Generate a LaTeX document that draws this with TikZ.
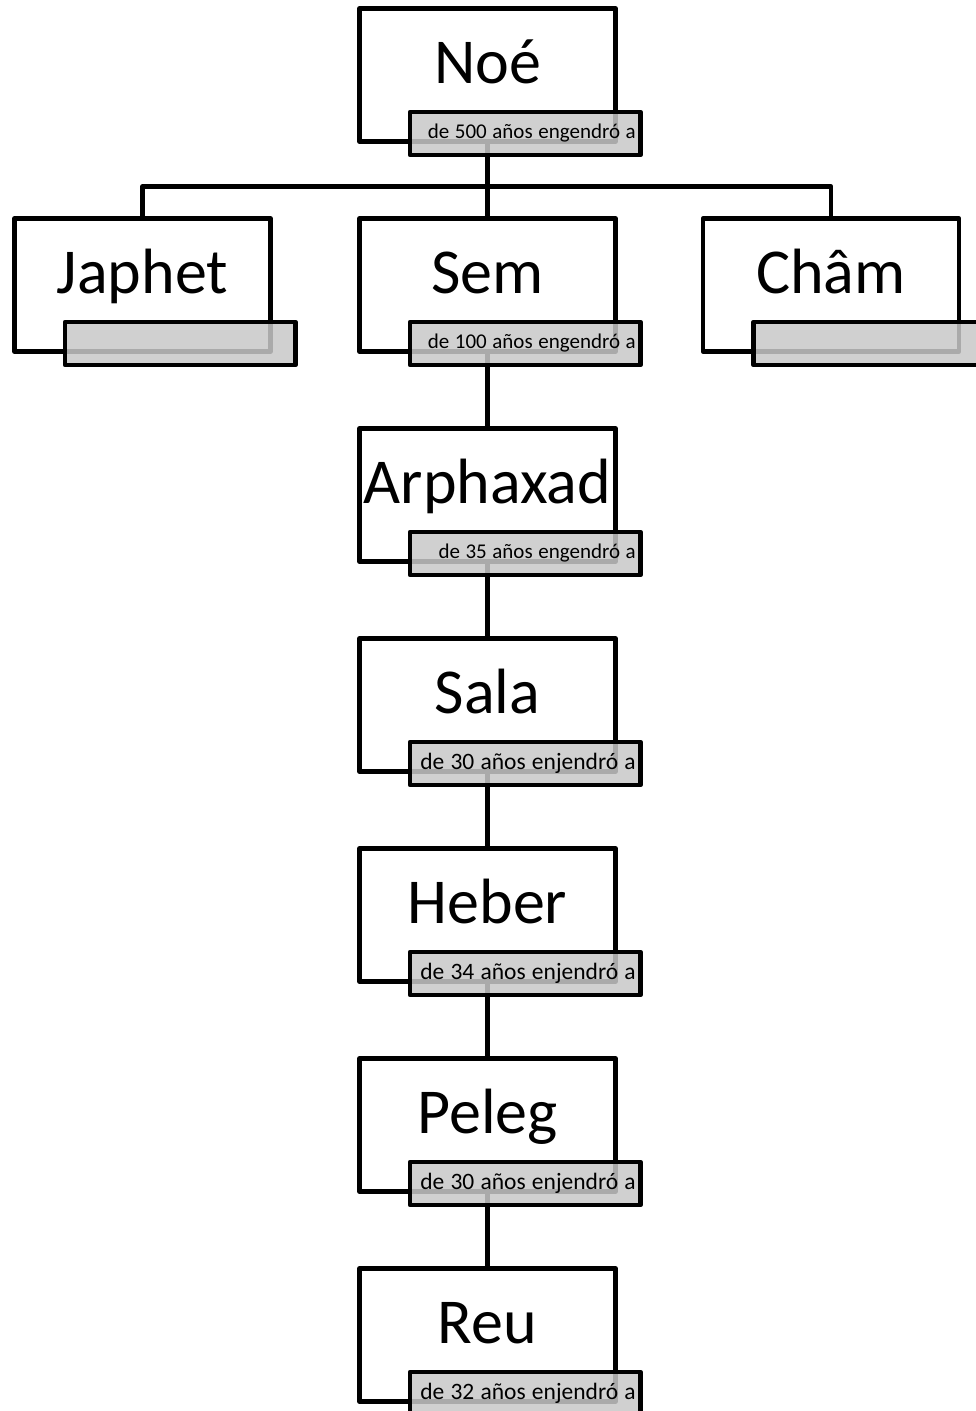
\documentclass[tikz,border=0pt]{standalone}
\usepackage{fontspec}
\setmainfont{Carlito}
\usetikzlibrary{calc}
\definecolor{lblgray}{RGB}{200,200,200}
\newcommand\lbltxtA[1]{{\fontsize{21}{24}\selectfont\makebox[221pt][r]{\spaceskip=0.265em\relax #1}}}
\newcommand\lbltxtB[1]{{\fontsize{23.5}{26}\selectfont\makebox[221pt][r]{\spaceskip=0.265em\relax #1}}}
\tikzset{
  person/.style={draw=black, line width=4.5pt, fill=white, minimum width=256pt, minimum height=133pt, inner sep=0pt, outer sep=0pt, line join=round},
  pname/.style={anchor=base, inner sep=0pt, font=\fontsize{64}{72}\selectfont},
  lbl/.style={draw=black, line width=4.5pt, fill=lblgray, fill opacity=0.85, text opacity=1, draw opacity=1, minimum width=230.5pt, minimum height=43pt, inner xsep=4.75pt, inner ysep=0pt, line join=round},
  conn/.style={draw=black, line width=4.5pt, line join=round}
}
\begin{document}
\begin{tikzpicture}[x=1pt, y=-1pt]
\useasboundingbox (0,0) rectangle (976,1411);
% positions
\coordinate (pnoe) at (487.5,75);
\coordinate (pjap) at (142.5,285);
\coordinate (psem) at (487.5,285);
\coordinate (pcha) at (831,285);
\coordinate (parp) at (487.5,495);
\coordinate (psal) at (487.5,705);
\coordinate (pheb) at (487.5,915);
\coordinate (ppel) at (487.5,1125);
\coordinate (preu) at (487.5,1335);
\coordinate (bus) at (487.5,186.5);
% person boxes
\path (pnoe) node[person] (noe) {};
\path (pjap) node[person] (jap) {};
\path (psem) node[person] (sem) {};
\path (pcha) node[person] (cha) {};
\path (parp) node[person] (arp) {};
\path (psal) node[person] (sal) {};
\path (pheb) node[person] (heb) {};
\path (ppel) node[person] (pel) {};
\path (preu) node[person] (reu) {};
% connectors
\draw[conn] (noe.south) -- (sem.north);
\draw[conn] (bus) -| (jap.north);
\draw[conn] (bus) -| (cha.north);
\draw[conn] (sem.south) -- (arp.north);
\draw[conn] (arp.south) -- (sal.north);
\draw[conn] (sal.south) -- (heb.north);
\draw[conn] (heb.south) -- (pel.north);
\draw[conn] (pel.south) -- (reu.north);
% names
\node[pname] (noeN) at ($(noe.north)+(0,74.5)$) {Noé};
\node[pname] (japN) at ($(jap.north)+(0,74.5)$) {Japhet};
\node[pname] (semN) at ($(sem.north)+(0,74.5)$) {Sem};
\node[pname] (chaN) at ($(cha.north)+(0,74.5)$) {Châm};
\node[pname] (arpN) at ($(arp.north)+(0,74.5)$) {Arphaxad};
\node[pname] (salN) at ($(sal.north)+(0,74.5)$) {Sala};
\node[pname] (hebN) at ($(heb.north)+(0,74.5)$) {Heber};
\node[pname] (pelN) at ($(pel.north)+(0,74.5)$) {Peleg};
\node[pname] (reuN) at ($(reu.north)+(0,74.5)$) {Reu};
% labels
\node[lbl] (noeL) at ($(pnoe)+(37.75,58.5)$) {\lbltxtA{de 500 años engendró a}};
\node[lbl] (japL) at ($(pjap)+(37.75,58.5)$) {};
\node[lbl] (semL) at ($(psem)+(37.75,58.5)$) {\lbltxtA{de 100 años engendró a}};
\node[lbl] (chaL) at ($(pcha)+(37.75,58.5)$) {};
\node[lbl] (arpL) at ($(parp)+(37.75,58.5)$) {\lbltxtA{de 35 años engendró a}};
\node[lbl] (salL) at ($(psal)+(37.75,58.5)$) {\lbltxtB{de 30 años enjendró a}};
\node[lbl] (hebL) at ($(pheb)+(37.75,58.5)$) {\lbltxtB{de 34 años enjendró a}};
\node[lbl] (pelL) at ($(ppel)+(37.75,58.5)$) {\lbltxtB{de 30 años enjendró a}};
\node[lbl] (reuL) at ($(preu)+(37.75,58.5)$) {\lbltxtB{de 32 años enjendró a}};
\end{tikzpicture}
\end{document}
